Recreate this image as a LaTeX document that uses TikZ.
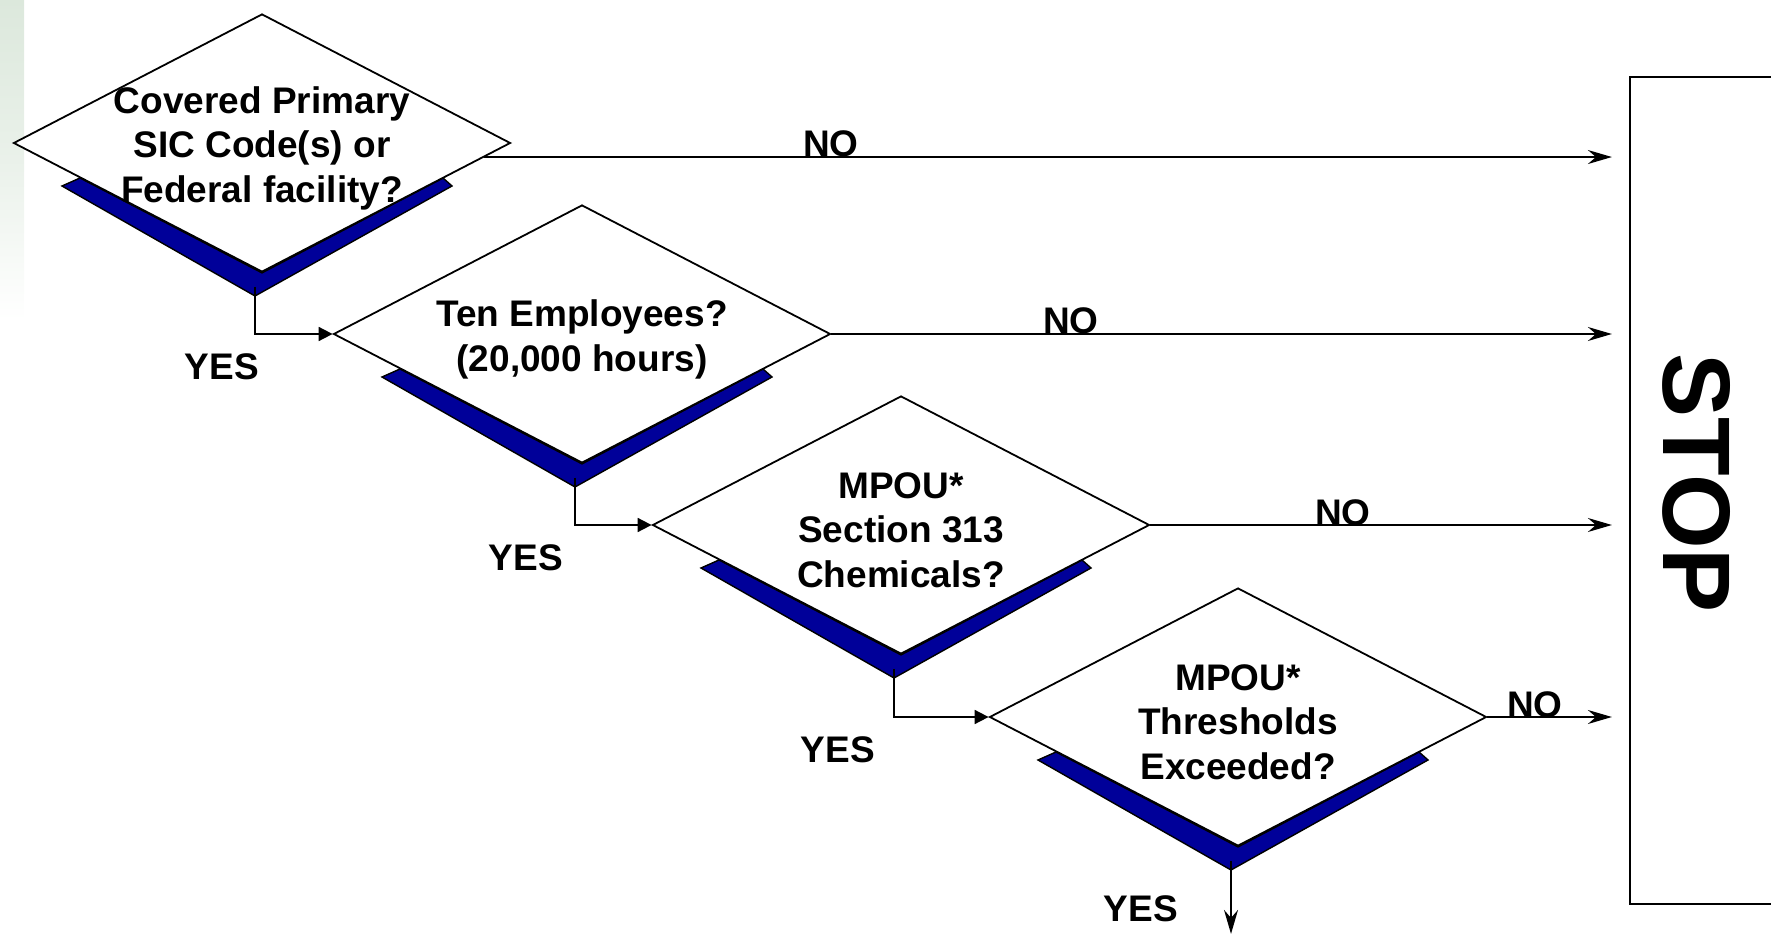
\documentclass[tikz,border=0pt]{standalone}
\usepackage{fontspec}
\setmainfont{Liberation Sans}
\usepackage{tikz}
\usetikzlibrary{calc,arrows.meta,shapes.geometric,backgrounds}
\definecolor{shade}{HTML}{000099}
\definecolor{edge}{HTML}{000000}
\definecolor{stripe}{HTML}{DCE8DC}
\tikzset{
  dec/.style={diamond, draw=edge, fill=white, line width=0.9pt, minimum width=248.5pt, minimum height=129pt, inner sep=0pt},
  qtxt/.style={align=center, font=\fontsize{18.5}{22.3}\selectfont\bfseries, inner sep=0pt, yshift=-2.6pt},
  lab/.style={font=\fontsize{18.5}{22.3}\selectfont\bfseries, inner sep=0pt},
  band/.style={draw=edge, fill=shade, line width=0.7pt, line join=miter},
  flow/.style={draw=edge, line width=0.9pt, -{Triangle[length=7pt,width=7pt]}},
  stopflow/.style={draw=edge, line width=0.9pt, -{Stealth[length=12pt,width=7pt,inset=4pt]}},
  stopbox/.style={draw=edge, line width=1.1pt, minimum width=150pt, minimum height=413.5pt, inner sep=0pt},
  stoplbl/.style={font=\fontsize{48}{52}\selectfont\bfseries, rotate=-90, inner sep=0pt},
}

\begin{document}
\begin{tikzpicture}[x=0.5pt,y=-0.5pt]
\useasboundingbox (0,0) rectangle (1771,935);
\clip (0,0) rectangle (1771,935);
\shade[top color=stripe, bottom color=white, middle color=stripe!60!white] (0,0) rectangle (24,320);

% questions
\node[dec] (q1) at (262,143) {};
\node[qtxt] (q1t) at (q1) {Covered Primary\\SIC Code(s) or\\Federal facility?};
\node[dec] (q2) at (582,334) {};
\node[qtxt] (q2t) at (q2) {Ten Employees?\\(20,000 hours)};
\node[dec] (q3) at (901,525) {};
\node[qtxt] (q3t) at (q3) {MPOU*\\Section 313\\Chemicals?};
\node[dec] (q4) at (1238,717) {};
\node[qtxt] (q4t) at (q4) {MPOU*\\Thresholds\\Exceeded?};

% blue bands behind the diamonds
\begin{scope}[on background layer]
\foreach \q in {q1,q2,q3,q4}
  \draw[band] ($(\q)+(-182,35)$) -- ($(\q)+(-200,43)$) -- ($(\q)+(-7,153)$)
    -- ($(\q)+(190,43)$) -- ($(\q)+(181,35)$) -- (\q.south) -- cycle;
\end{scope}

\node[stopbox] (stop) at (1780,490.5) {};
\node[stoplbl] (stoptxt) at (1697,483) {STOP};

% yes branch
\draw[flow] ($(q1.south)+(-7,14)$) |- (q2.west);
\draw[flow] ($(q2.south)+(-7,14)$) |- (q3.west);
\draw[flow] ($(q3.south)+(-7,14)$) |- (q4.west);
\coordinate (out) at ($(q4.south)+(-7,87)$);
\draw[stopflow] ($(q4.south)+(-7,14)$) -- (out);
\node[lab] (yes1) at (222,367) {YES};
\node[lab] (yes2) at (526,558) {YES};
\node[lab] (yes3) at (838,750) {YES};
\node[lab] (yes4) at (1141,909) {YES};

% no branch
\coordinate (n1) at ($(q1.east)!0.108!(q1.south)$);
\draw[stopflow, shorten >=8.5pt] (n1) -- (n1 -| stop.west);
\draw[stopflow, shorten >=8.5pt] (q2.east) -- (q2.east -| stop.west);
\draw[stopflow, shorten >=8.5pt] (q3.east) -- (q3.east -| stop.west);
\draw[stopflow, shorten >=8.5pt] (q4.east) -- (q4.east -| stop.west);
\node[lab, anchor=base] (no1) at (831,157) {NO};
\node[lab, anchor=base] (no2) at (1071,334) {NO};
\node[lab, anchor=base] (no3) at (1343,525) {NO};
\node[lab, anchor=base] (no4) at (1535,717) {NO};
\end{tikzpicture}
\end{document}
